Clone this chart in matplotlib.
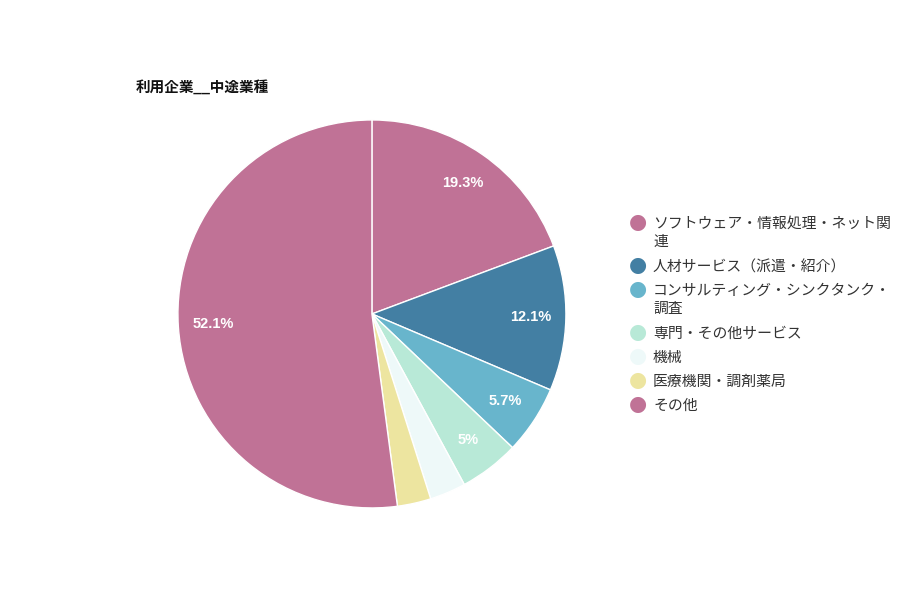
import numpy as np
import matplotlib.pyplot as plt

plt.rcParams['font.family'] = ['Liberation Sans', 'Noto Sans CJK JP', 'DejaVu Sans']

categories = ['ソフトウェア・情報処理・ネット関\n連', '人材サービス（派遣・紹介）',
              'コンサルティング・シンクタンク・\n調査', '専門・その他サービス', '機械',
              '医療機関・調剤薬局', 'その他']
values = [19.3, 12.1, 5.7, 5.0, 3.0, 2.8, 52.1]
pct_labels = ['19.3%', '12.1%', '5.7%', '5%', '', '', '52.1%']
colors = ['#c07296', '#437fa3', '#68b5cc', '#b8e9d7', '#eef9f9', '#ede5a0', '#c07296']

fig = plt.figure(figsize=(9, 6), dpi=100)
ax = fig.add_axes([0.4133 - 0.2156, 0.4767 - 0.3233, 0.4311, 0.6467])

wedges, texts = ax.pie(values, colors=colors, startangle=90, counterclock=False,
                       radius=1, wedgeprops=dict(edgecolor='white', linewidth=1))
ax.set_aspect('equal')
ax.set_xlim(-1, 1)
ax.set_ylim(-1, 1)

total = sum(values)
cum = 0
for v, lab in zip(values, pct_labels):
    mid = 90 - (cum + v / 2) / total * 360
    cum += v
    if lab:
        ax.text(0.82 * np.cos(np.radians(mid)), 0.82 * np.sin(np.radians(mid)), lab,
                ha='center', va='center', color='white', fontsize=10.5, fontweight='bold')

fig.text(136 / 900, 1 - 87 / 600, '利用企業__中途業種', fontsize=10.5, fontweight='bold',
         ha='left', va='center', color='#111111')

# legend
y = 222
for cat, c in zip(categories, colors):
    fig.text(638 / 900, 1 - y / 600, '●', color=c, fontsize=15, ha='center', va='center',
             family=['DejaVu Sans'])
    fig.text(653 / 900, 1 - (y - 5) / 600, cat, fontsize=10.7, ha='left', va='top',
             color='#333333', linespacing=1.38)
    y += 24 + 19 * cat.count('\n')

fig.savefig('out.png', dpi=100)
